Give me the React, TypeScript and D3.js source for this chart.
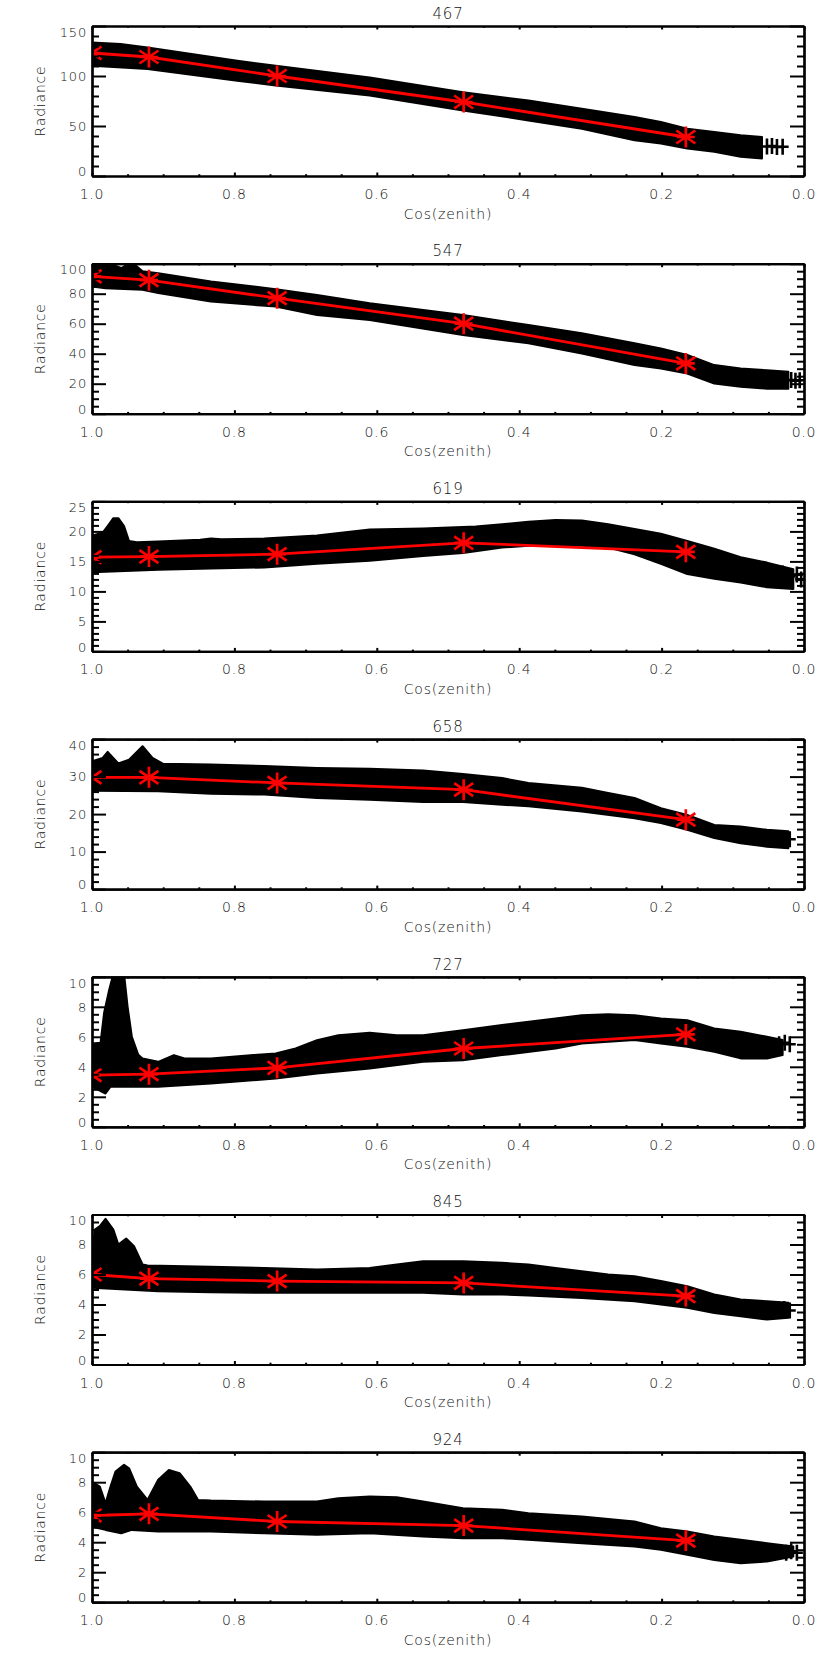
import React, { useEffect, useRef } from 'react'
import * as d3 from 'd3'

// wavelength of each panel, top to bottom
const titles = ['467', '547', '619', '658', '727', '845', '924']
const yMaxes = [150, 100, 25, 40, 10, 10, 10]
const yMajorSteps = [50, 20, 5, 10, 2, 2, 2]
const yMinorSteps = [10, 5, 1, 2, 0.5, 0.5, 0.5]
const xTickValues = [1.0, 0.8, 0.6, 0.4, 0.2, 0.0]

// red asterisks (cos(zenith) of the sample points)
const starCos = [1.0, 0.92, 0.74, 0.478, 0.166]
const star467 = [123, 119, 100, 74, 39]
const star547 = [91.5, 89, 77, 60, 33.5]
const star619 = [15.7, 15.8, 16.2, 18.1, 16.6]
const star658 = [29.8, 29.8, 28.3, 26.5, 18.5]
const star727 = [3.44, 3.51, 3.93, 5.22, 6.16]
const star845 = [6.0, 5.73, 5.56, 5.44, 4.56]
const star924 = [5.78, 5.89, 5.38, 5.11, 4.11]

// upper / lower edge of the black cloud of '+' points [cos, radiance]
const upper467 = [[1.0, 133.4], [0.96, 132], [0.922, 128.4], [0.796, 115.2], [0.742, 110.2], [0.61, 98.6], [0.479, 83.7], [0.387, 75.5], [0.312, 67.2], [0.238, 58.9], [0.201, 54.0], [0.164, 47.3], [0.126, 44.0], [0.089, 40.7], [0.059, 39.1]]
const lower467 = [[1.0, 110.2], [0.922, 106.9], [0.796, 95.3], [0.742, 90.4], [0.61, 80.4], [0.479, 65.5], [0.387, 55.6], [0.312, 47.3], [0.238, 35.7], [0.201, 32.4], [0.164, 27.5], [0.126, 24.2], [0.089, 19.2], [0.059, 17.5]]
const tail467 = [[0.052, 29.5], [0.045, 30], [0.038, 29], [0.03, 29.3]]

const upper547 = [[1.0, 101], [0.981, 101], [0.959, 97.1], [0.944, 101], [0.929, 94.9], [0.907, 93.7], [0.833, 88.2], [0.742, 83.0], [0.684, 79.2], [0.61, 73.7], [0.479, 65.8], [0.387, 59.1], [0.312, 53.6], [0.238, 46.9], [0.201, 43.5], [0.164, 39.1], [0.126, 32.4], [0.089, 30.1], [0.052, 29.0], [0.022, 27.9]]
const lower547 = [[1.0, 84.8], [0.981, 83.7], [0.929, 82.6], [0.907, 80.4], [0.833, 74.8], [0.742, 71.4], [0.684, 65.8], [0.61, 62.5], [0.479, 52.5], [0.387, 46.9], [0.312, 40.2], [0.238, 32.4], [0.201, 30.1], [0.164, 26.8], [0.126, 20.1], [0.089, 17.9], [0.052, 16.7], [0.022, 16.7]]
const tail547 = [[0.018, 22.5], [0.012, 22], [0.006, 22.3]]

const upper619 = [[1.0, 19.3], [0.985, 19.8], [0.978, 20.9], [0.97, 22.2], [0.963, 22.2], [0.955, 20.9], [0.948, 18.4], [0.937, 18.2], [0.907, 18.3], [0.848, 18.6], [0.833, 18.8], [0.818, 18.7], [0.758, 18.8], [0.684, 19.3], [0.647, 19.8], [0.61, 20.3], [0.535, 20.5], [0.461, 20.8], [0.424, 21.2], [0.387, 21.6], [0.349, 21.9], [0.312, 21.8], [0.275, 21.2], [0.238, 20.4], [0.201, 19.6], [0.164, 18.4], [0.126, 17.1], [0.089, 15.7], [0.052, 14.8], [0.015, 13.7]]
const lower619 = [[1.0, 13.2], [0.907, 13.6], [0.833, 13.8], [0.758, 14.0], [0.684, 14.6], [0.61, 15.1], [0.535, 15.9], [0.479, 16.4], [0.424, 17.3], [0.387, 17.6], [0.312, 17.6], [0.275, 17.3], [0.238, 16.2], [0.201, 14.6], [0.164, 12.9], [0.126, 12.1], [0.089, 11.5], [0.052, 10.7], [0.015, 10.4]]
const tail619 = [[0.03, 13], [0.02, 12.5], [0.01, 12.8], [0.004, 12]]

const upper658 = [[1.0, 34.1], [0.985, 35.0], [0.978, 36.6], [0.963, 33.5], [0.948, 34.5], [0.929, 38.1], [0.915, 35.0], [0.9, 33.4], [0.833, 33.2], [0.758, 32.8], [0.684, 32.3], [0.61, 32.1], [0.535, 31.6], [0.479, 30.7], [0.424, 29.6], [0.387, 28.3], [0.312, 27.0], [0.275, 25.6], [0.238, 24.3], [0.201, 21.6], [0.164, 19.8], [0.126, 17.1], [0.089, 16.7], [0.052, 15.8], [0.022, 15.4]]
const lower658 = [[1.0, 26.2], [0.907, 26.1], [0.833, 25.4], [0.758, 25.2], [0.684, 24.3], [0.61, 23.8], [0.535, 23.2], [0.479, 23.2], [0.424, 22.5], [0.387, 22.1], [0.312, 20.7], [0.238, 18.9], [0.201, 17.6], [0.164, 15.8], [0.126, 13.6], [0.089, 12.2], [0.052, 11.3], [0.022, 10.9]]
const tail658 = [[0.035, 13.5], [0.028, 13], [0.02, 13.3]]

const upper727 = [[1.0, 5.56], [0.988, 5.6], [0.983, 7.6], [0.976, 9.1], [0.97, 10.2], [0.955, 10.2], [0.95, 8.0], [0.944, 6.0], [0.935, 4.8], [0.929, 4.56], [0.907, 4.33], [0.885, 4.78], [0.87, 4.56], [0.833, 4.56], [0.773, 4.78], [0.742, 4.89], [0.714, 5.22], [0.684, 5.78], [0.654, 6.11], [0.61, 6.27], [0.572, 6.11], [0.535, 6.11], [0.479, 6.44], [0.424, 6.78], [0.349, 7.22], [0.312, 7.44], [0.275, 7.51], [0.238, 7.44], [0.201, 7.22], [0.164, 7.11], [0.126, 6.56], [0.089, 6.33], [0.052, 6.0], [0.03, 5.78]]
const lower727 = [[1.0, 2.67], [0.981, 2.22], [0.974, 2.67], [0.907, 2.67], [0.833, 2.89], [0.742, 3.22], [0.684, 3.56], [0.61, 3.89], [0.535, 4.33], [0.479, 4.44], [0.424, 4.78], [0.349, 5.22], [0.312, 5.56], [0.275, 5.67], [0.238, 5.78], [0.201, 5.56], [0.164, 5.33], [0.126, 5.0], [0.089, 4.56], [0.052, 4.56], [0.03, 4.78]]
const tail727 = [[0.035, 5.5], [0.027, 5.6], [0.02, 5.5]]

const upper845 = [[1.0, 6.78], [0.996, 9.0], [0.989, 9.22], [0.981, 9.71], [0.97, 9.0], [0.963, 8.0], [0.952, 8.4], [0.941, 7.89], [0.929, 6.67], [0.922, 6.6], [0.833, 6.51], [0.758, 6.44], [0.684, 6.33], [0.61, 6.44], [0.572, 6.67], [0.535, 6.89], [0.479, 6.89], [0.424, 6.78], [0.387, 6.67], [0.349, 6.44], [0.312, 6.22], [0.275, 6.0], [0.238, 5.89], [0.201, 5.56], [0.164, 5.22], [0.126, 4.67], [0.089, 4.33], [0.052, 4.22], [0.022, 4.11]]
const lower845 = [[1.0, 5.11], [0.907, 4.89], [0.833, 4.82], [0.758, 4.78], [0.684, 4.78], [0.61, 4.78], [0.535, 4.78], [0.479, 4.67], [0.424, 4.67], [0.387, 4.6], [0.312, 4.44], [0.238, 4.22], [0.201, 4.0], [0.164, 3.78], [0.126, 3.44], [0.089, 3.22], [0.052, 3.0], [0.022, 3.11]]
const tail845 = [[0.035, 3.65], [0.028, 3.7], [0.02, 3.6]]

const upper924 = [[1.0, 8.04], [0.989, 7.71], [0.981, 6.6], [0.974, 7.71], [0.967, 8.71], [0.955, 9.16], [0.948, 8.93], [0.937, 7.71], [0.922, 6.82], [0.907, 8.16], [0.892, 8.82], [0.877, 8.6], [0.862, 7.71], [0.851, 6.82], [0.833, 6.78], [0.758, 6.71], [0.684, 6.71], [0.654, 6.93], [0.61, 7.04], [0.572, 7.0], [0.535, 6.71], [0.479, 6.27], [0.424, 6.16], [0.387, 5.93], [0.312, 5.71], [0.238, 5.38], [0.201, 4.93], [0.164, 4.71], [0.126, 4.38], [0.089, 4.16], [0.052, 3.93], [0.015, 3.71]]
const lower924 = [[1.0, 5.04], [0.981, 4.82], [0.959, 4.6], [0.944, 4.82], [0.907, 4.71], [0.833, 4.71], [0.758, 4.6], [0.684, 4.49], [0.61, 4.6], [0.535, 4.38], [0.479, 4.27], [0.424, 4.27], [0.387, 4.16], [0.312, 3.93], [0.238, 3.71], [0.201, 3.49], [0.164, 3.16], [0.126, 2.82], [0.089, 2.6], [0.052, 2.71], [0.015, 3.04]]
const tail924 = [[0.025, 3.3], [0.018, 3.4], [0.01, 3.3]]

const panels = [
  { upper: upper467, lower: lower467, tail: tail467, stars: star467 },
  { upper: upper547, lower: lower547, tail: tail547, stars: star547 },
  { upper: upper619, lower: lower619, tail: tail619, stars: star619 },
  { upper: upper658, lower: lower658, tail: tail658, stars: star658 },
  { upper: upper727, lower: lower727, tail: tail727, stars: star727 },
  { upper: upper845, lower: lower845, tail: tail845, stars: star845 },
  { upper: upper924, lower: lower924, tail: tail924, stars: star924 },
].map((p, i) => ({ ...p, title: titles[i], yMax: yMaxes[i], major: yMajorSteps[i], minor: yMinorSteps[i] }))

const W = 830
const H = 1661
const LEFT = 92
const RIGHT = 804
const FIRST_TOP = 26
const STEP = 237.7
const PLOT_H = 150
const FONT = "'DejaVu Sans', sans-serif"

export default function App() {
  const ref = useRef<SVGSVGElement>(null)

  useEffect(() => {
    const svg = d3.select(ref.current)
    svg.selectAll('*').remove()

    const x = d3.scaleLinear().domain([1, 0]).range([LEFT, RIGHT])
    const xMinor = d3.range(0, 1.0001, 0.05).filter(v => Math.abs(v * 5 - Math.round(v * 5)) > 1e-6)

    panels.forEach((p, i) => {
      const top = FIRST_TOP + i * STEP
      const bottom = top + PLOT_H
      const y = d3.scaleLinear().domain([0, p.yMax]).range([bottom, top])
      const g = svg.append('g')

      const clipId = `clip-${i}`
      svg.append('clipPath').attr('id', clipId)
        .append('rect')
        .attr('x', LEFT).attr('y', top)
        .attr('width', RIGHT - LEFT).attr('height', PLOT_H)

      const data = g.append('g').attr('clip-path', `url(#${clipId})`)
      const line = d3.line<number[]>().x(d => x(d[0])).y(d => y(d[1]))

      // cloud of '+' points as its envelope
      const outline = [...p.upper, ...p.lower.slice().reverse()]
      data.append('path')
        .attr('d', line(outline) + 'Z')
        .attr('fill', '#000')
        .attr('stroke', '#000')
        .attr('stroke-width', 2)
        .attr('stroke-linejoin', 'round')

      // the last few isolated '+' symbols
      data.selectAll('path.plus')
        .data(p.tail)
        .enter().append('path')
        .attr('class', 'plus')
        .attr('d', d => `M${x(d[0]) - 6},${y(d[1])}h12M${x(d[0])},${y(d[1]) - 8}v16`)
        .attr('stroke', '#000')
        .attr('stroke-width', 2.6)
        .attr('fill', 'none')

      // red line through the sample points
      const pts = starCos.map((c, k) => [c, p.stars[k]])
      data.append('path')
        .attr('d', line(pts))
        .attr('fill', 'none')
        .attr('stroke', '#ff0000')
        .attr('stroke-width', 2.8)

      data.selectAll('path.star')
        .data(pts)
        .enter().append('path')
        .attr('class', 'star')
        .attr('d', d => {
          const cx = x(d[0]), cy = y(d[1])
          return `M${cx},${cy - 10.5}v21M${cx - 9.5},${cy - 6.5}L${cx + 9.5},${cy + 6.5}M${cx - 9.5},${cy + 6.5}L${cx + 9.5},${cy - 6.5}M${cx - 9},${cy}h18`
        })
        .attr('stroke', '#ff0000')
        .attr('stroke-width', 2.7)
        .attr('fill', 'none')

      // axes with inward ticks on all four sides
      const yMajor = d3.range(0, p.yMax + 1e-6, p.major)
      const yMinor = d3.range(0, p.yMax + 1e-6, p.minor)
        .filter(v => Math.abs(v / p.major - Math.round(v / p.major)) > 1e-6)

      const axes = g.append('g')
      axes.append('g').attr('transform', `translate(${LEFT},0)`)
        .call(d3.axisLeft(y).tickValues(yMajor).tickSize(-14).tickSizeOuter(0).tickFormat(() => ''))
      axes.append('g').attr('transform', `translate(${LEFT},0)`)
        .call(d3.axisLeft(y).tickValues(yMinor).tickSize(-7).tickSizeOuter(0).tickFormat(() => ''))
      axes.append('g').attr('transform', `translate(${RIGHT},0)`)
        .call(d3.axisRight(y).tickValues(yMajor).tickSize(-14).tickSizeOuter(0).tickFormat(() => ''))
      axes.append('g').attr('transform', `translate(${RIGHT},0)`)
        .call(d3.axisRight(y).tickValues(yMinor).tickSize(-7).tickSizeOuter(0).tickFormat(() => ''))
      axes.append('g').attr('transform', `translate(0,${bottom})`)
        .call(d3.axisBottom(x).tickValues(xTickValues).tickSize(-3.5).tickSizeOuter(0).tickFormat(() => ''))
      axes.append('g').attr('transform', `translate(0,${bottom})`)
        .call(d3.axisBottom(x).tickValues(xMinor).tickSize(-1.8).tickSizeOuter(0).tickFormat(() => ''))
      axes.append('g').attr('transform', `translate(0,${top})`)
        .call(d3.axisTop(x).tickValues(xTickValues).tickSize(-3.5).tickSizeOuter(0).tickFormat(() => ''))
      axes.append('g').attr('transform', `translate(0,${top})`)
        .call(d3.axisTop(x).tickValues(xMinor).tickSize(-1.8).tickSizeOuter(0).tickFormat(() => ''))
      axes.selectAll('path.domain').attr('stroke', '#000').attr('stroke-width', 2.2)
      axes.selectAll('.tick line').attr('stroke', '#000').attr('stroke-width', 2)

      const text = (sel: any) => sel
        .attr('font-family', FONT)
        .attr('font-weight', 300)
        .attr('fill', '#111')
        .attr('letter-spacing', 0.8)

      // y tick labels, kept inside the plot's vertical span
      g.selectAll('text.ylab')
        .data(yMajor)
        .enter().append('text')
        .attr('class', 'ylab')
        .call(text)
        .attr('font-size', 13)
        .attr('text-anchor', 'end')
        .attr('x', LEFT - 5)
        .attr('y', d => Math.min(bottom - 4.5, Math.max(top + 6, y(d))) + 4.7)
        .text(d => d3.format('d')(d))

      g.selectAll('text.xlab')
        .data(xTickValues)
        .enter().append('text')
        .attr('class', 'xlab')
        .call(text)
        .attr('font-size', 14)
        .attr('text-anchor', 'middle')
        .attr('x', d => x(d))
        .attr('y', bottom + 23)
        .text(d => d3.format('.1f')(d))

      g.append('text').call(text)
        .attr('font-size', 14)
        .attr('text-anchor', 'middle')
        .attr('x', (LEFT + RIGHT) / 2)
        .attr('y', bottom + 42.5)
        .text('Cos(zenith)')

      g.append('text').call(text)
        .attr('font-size', 14)
        .attr('text-anchor', 'middle')
        .attr('transform', `translate(45,${(top + bottom) / 2}) rotate(-90)`)
        .text('Radiance')

      g.append('text').call(text)
        .attr('font-size', 15)
        .attr('text-anchor', 'middle')
        .attr('x', (LEFT + RIGHT) / 2)
        .attr('y', top - 7.3)
        .text(p.title)
    })
  }, [])

  return (
    <svg
      ref={ref}
      width={W}
      height={H}
      style={{ position: 'absolute', left: 0, top: 0, background: '#fff', display: 'block' }}
    />
  )
}
